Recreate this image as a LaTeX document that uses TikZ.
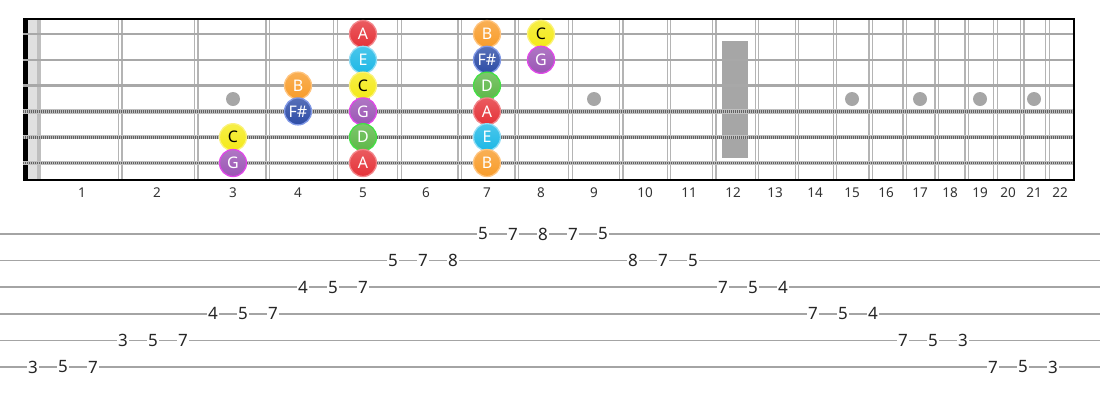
\documentclass[tikz,border=0pt]{standalone}
\usepackage{fontspec}
\setmainfont{Noto Sans}
\usetikzlibrary{calc}
\usepackage{xcolor}

% note colours (fill and ring)
\definecolor{noteA}{HTML}{E53238}\definecolor{ringA}{HTML}{F2868B}
\definecolor{noteE}{HTML}{1DB8E6}\definecolor{ringE}{HTML}{92DDF5}
\definecolor{noteC}{HTML}{F4EA18}\definecolor{ringC}{HTML}{FBF27A}
\definecolor{noteG}{HTML}{9B55B5}\definecolor{ringG}{HTML}{E048E8}
\definecolor{noteD}{HTML}{5DB848}\definecolor{ringD}{HTML}{44E044}
\definecolor{noteB}{HTML}{F89C2A}\definecolor{ringB}{HTML}{FFC47E}
\definecolor{noteF}{HTML}{2D4CA6}\definecolor{ringF}{HTML}{8098E6}
\definecolor{fretgray}{HTML}{B4B4B4}
\definecolor{stringgray}{HTML}{A8A8A8}
\definecolor{inlaygray}{HTML}{A6A6A6}
\definecolor{tabgray}{HTML}{A4A4A4}

\tikzset{
    note/.style={circle, minimum size=27pt, inner sep=0pt, line width=1.3pt,
        font=\fontsize{16}{16}\selectfont},
    fretnum/.style={font=\fontsize{13.5}{13.5}\selectfont, text=black!80},
    tabnum/.style={fill=white, inner sep=0.8pt, font=\fontsize{17}{17}\selectfont, text=black!85}
}

\def\fretmid{{82,157,233,298,363,426,487,541,594,645,689,733,775,815,852,886,920,950,980,1008,1034,1060}}

\begin{document}
\begin{tikzpicture}[x=1pt,y=-1pt]
            \useasboundingbox (0,0) rectangle (1100,400);
            % Nut and the grey band behind it
            \fill[black] (23,19) rectangle (27.5,180);
            \fill[black!12] (27.5,19) rectangle (37,180);
            \fill[black!25] (37,19) rectangle (41,180);
            % Frets (double lines)
            \foreach \n in {1,...,21} {
                \pgfmathsetmacro\fx{40+1434*(1-2^(-\n/12))}
                \draw[fretgray, line width=1.2pt] (\fx-1.8,19) -- (\fx-1.8,180);
                \draw[fretgray, line width=1.2pt] (\fx+1.8,19) -- (\fx+1.8,180);
            }
            % Inlays
            \foreach \x in {233,363,487,594,852,920,980,1034} {
                \fill[inlaygray] (\x,99) circle (7);
            }
            \fill[inlaygray] (722,41) rectangle (748,158); % 12th fret
            % Plain strings
            \foreach \s in {1,2,3} {
                \draw[stringgray, line width=2.4pt] (23,{34+25.8*(\s-1)}) -- (1074,{34+25.8*(\s-1)});
            }
            % Wound strings
            \foreach \s in {4,5,6} {
                \draw[black!25, line width=4.2pt] (23,{34+25.8*(\s-1)}) -- (1074,{34+25.8*(\s-1)});
                \draw[black!62, line width=2.6pt, dash pattern=on 1pt off 1pt] (23,{34+25.8*(\s-1)}) -- (1074,{34+25.8*(\s-1)});
            }
            % Border
            \draw[black, line width=1.6pt] (23,19) -- (1074,19) -- (1074,180) -- (23,180);
            % Fret numbers
            \foreach \x [count=\n] in {82,157,233,298,363,426,487,541,594,645,689,733,775,815,852,886,920,950,980,1008,1034,1060} {
                \node[fretnum] (f\n) at (\x,193) {\n};
            }
            % Scale notes: string/fret/label/colour/text
            \foreach \s/\f/\l/\c/\t in {1/5/A/A/white, 1/7/B/B/white, 1/8/C/C/black,
                                        2/5/E/E/white, 2/7/F\#/F/white, 2/8/G/G/white,
                                        3/4/B/B/white, 3/5/C/C/black, 3/7/D/D/white,
                                        4/4/F\#/F/white, 4/5/G/G/white, 4/7/A/A/white,
                                        5/3/C/C/black, 5/5/D/D/white, 5/7/E/E/white,
                                        6/3/G/G/white, 6/5/A/A/white, 6/7/B/B/white} {
                \pgfmathsetmacro\nx{\fretmid[\f-1]}
                \node[note, top color=note\c!80!white, bottom color=note\c, draw=ring\c, text=\t] (n\s-\f) at (\nx,{34+25.8*(\s-1)}) {\l};
            }
            % Tab staff
            \foreach \s in {1,...,6} {
                \draw[tabgray, line width=1.6pt] (0,{234+26.6*(\s-1)}) -- (1100,{234+26.6*(\s-1)});
            }
            % Tab numbers: string/fret
            \foreach \s/\f [count=\i from 0] in {6/3,6/5,6/7,5/3,5/5,5/7,4/4,4/5,4/7,3/4,3/5,3/7,
                                                 2/5,2/7,2/8,1/5,1/7,1/8,1/7,1/5,2/8,2/7,2/5,
                                                 3/7,3/5,3/4,4/7,4/5,4/4,5/7,5/5,5/3,6/7,6/5,6/3} {
                \node[tabnum] (t\i) at ({33+30*\i},{234+26.6*(\s-1)}) {\f};
            }
        \end{tikzpicture}
\end{document}
